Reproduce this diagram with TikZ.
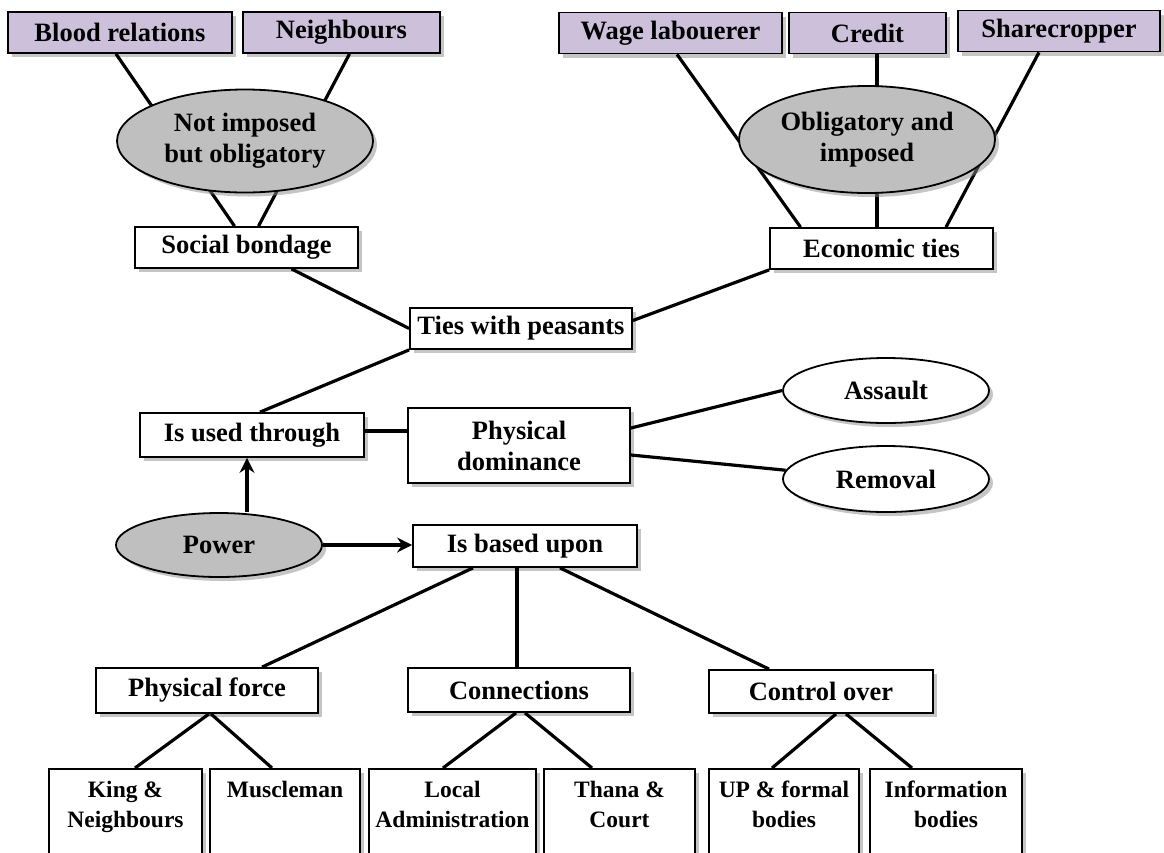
\documentclass[tikz,border=0pt]{standalone}
\usepackage{fontspec}
\setmainfont{Liberation Serif}
\usetikzlibrary{shapes.geometric,shadows,arrows.meta}
\definecolor{lilac}{RGB}{204,192,218}
\definecolor{shade}{RGB}{191,191,191}
\tikzset{
  unit/.style={draw, line width=1.8pt, font=\fontsize{26.5}{31}\selectfont\bfseries, align=center, inner sep=0pt,
    drop shadow={shadow xshift=4pt, shadow yshift=-4pt, fill=black!45}},
  rootbox/.style={unit, rectangle, fill=lilac, minimum height=41pt},
  plainbox/.style={unit, rectangle, fill=white, minimum height=41pt},
  theme/.style={unit, ellipse, fill=shade},
  outcome/.style={unit, ellipse, fill=white},
  leaf/.style={unit, rectangle, fill=white, anchor=north, inner xsep=0pt, inner ysep=12pt,
    font=\fontsize{23.5}{30}\selectfont\bfseries},
  link/.style={line width=3.2pt},
  push/.style={line width=3.2pt, -{Stealth[length=15pt,width=15pt,inset=5pt]}}
}
\newcommand{\leaftext}[2]{\parbox[t][72pt][t]{#1}{\centering #2}}

\begin{document}
\begin{tikzpicture}[x=1pt, y=-1pt]
  \useasboundingbox (0,0) rectangle (1164,852);
  \clip (0,0) rectangle (1164,852);

  \node[rootbox, minimum width=224pt] (blood) at (120,32.5) {Blood relations};
  \node[rootbox, minimum width=197pt] (neigh) at (341.5,32.5) {Neighbours};
  \node[rootbox, minimum width=223pt] (wage) at (670.5,33) {Wage labouerer};
  \node[rootbox, minimum width=157pt] (credit) at (867.5,33) {Credit};
  \node[rootbox, minimum width=202pt] (share) at (1059,31) {Sharecropper};

  \node[plainbox, minimum width=223pt] (social) at (246.5,247.5) {Social bondage};
  \node[plainbox, minimum width=223pt] (econ) at (881.5,248.5) {Economic ties};
  \node[plainbox, minimum width=222pt] (ties) at (521,328.5) {Ties with peasants};
  \node[plainbox, minimum width=224pt, minimum height=44pt] (isused) at (252,435) {Is used through};
  \node[plainbox, minimum width=222pt, minimum height=75pt] (physdom) at (519,445.5) {Physical\\ dominance};
  \node[outcome, minimum width=206pt, minimum height=65pt] (assault) at (886,390.5) {Assault};
  \node[outcome, minimum width=206pt, minimum height=66pt] (removal) at (886,479) {Removal};
  \node[theme, minimum width=206pt, minimum height=64pt] (power) at (219,545) {Power};
  \node[plainbox, minimum width=224pt, minimum height=42pt] (isbased) at (525,546) {Is based upon};

  \node[plainbox, minimum width=222pt, minimum height=45pt] (physforce) at (207,690.5) {Physical force};
  \node[plainbox, minimum width=222pt, minimum height=44pt] (conn) at (519,690) {Connections};
  \node[plainbox, minimum width=224pt, minimum height=43pt] (control) at (821,691.5) {Control over};

  \node[leaf] (king) at (125.5,768) {\leaftext{153pt}{King \&\\ Neighbours}};
  \node[leaf] (muscle) at (285,768) {\leaftext{150pt}{Muscleman}};
  \node[leaf] (local) at (452.5,768) {\leaftext{167pt}{Local\\ Administration}};
  \node[leaf] (thana) at (619.5,768) {\leaftext{151pt}{Thana \&\\ Court}};
  \node[leaf] (up) at (784,768) {\leaftext{150pt}{UP \& formal\\ bodies}};
  \node[leaf] (info) at (946,768) {\leaftext{152pt}{Information\\ bodies}};

  \draw[link] ([xshift=-4pt]blood.south) -- ([xshift=-12pt]social.north);
  \draw[link] ([xshift=8pt]neigh.south) -- ([xshift=12pt]social.north);
  \draw[link] ([xshift=6.5pt]wage.south) -- ([xshift=-81pt]econ.north);
  \draw[link] ([xshift=9.5pt]credit.south) -- ([xshift=-4.5pt]econ.north);
  \draw[link] ([xshift=-20pt]share.south) -- ([xshift=64.5pt]econ.north);

  \draw[link] ([xshift=45pt]social.south) -- (ties.west);
  \draw[link] (econ.south west) -- ([yshift=8pt]ties.east);
  \draw[link] ([xshift=8pt]isused.north) -- (ties.south west);
  \draw[link] ([yshift=4pt]isused.east) -- ([yshift=4pt]isused.east -| physdom.west);
  \draw[link] ([yshift=17.5pt]physdom.east) -- (assault.west);
  \draw[link] ([yshift=-9.5pt]physdom.east) -- (removal.175);

  \draw[push] ([xshift=-5pt]isused.south |- power.north) -- ([xshift=-5pt]isused.south);
  \draw[push] (power.east) -- (power.east -| isbased.west);

  \draw[link] ([xshift=-52pt]isbased.south) -- ([xshift=55pt]physforce.north);
  \draw[link] ([xshift=-8pt]isbased.south) -- ([xshift=-2pt]conn.north);
  \draw[link] ([xshift=35pt]isbased.south) -- ([xshift=-52pt]control.north);

  \draw[link] ([xshift=2pt]physforce.south) -- ([xshift=9.5pt]king.north);
  \draw[link] ([xshift=4pt]physforce.south) -- ([xshift=-13pt]muscle.north);
  \draw[link] ([xshift=-3pt]conn.south) -- ([xshift=-9.5pt]local.north);
  \draw[link] ([xshift=6pt]conn.south) -- ([xshift=-27.5pt]thana.north);
  \draw[link] ([xshift=15pt]control.south) -- ([xshift=-12pt]up.north);
  \draw[link] ([xshift=25pt]control.south) -- ([xshift=-34pt]info.north);

  \node[theme, minimum width=256pt, minimum height=103pt] (notimp) at (245,141) {Not imposed\\ but obligatory};
  \node[theme, minimum width=256pt, minimum height=107pt] (oblig) at (867,139.5) {Obligatory and\\ imposed};
\end{tikzpicture}
\end{document}
